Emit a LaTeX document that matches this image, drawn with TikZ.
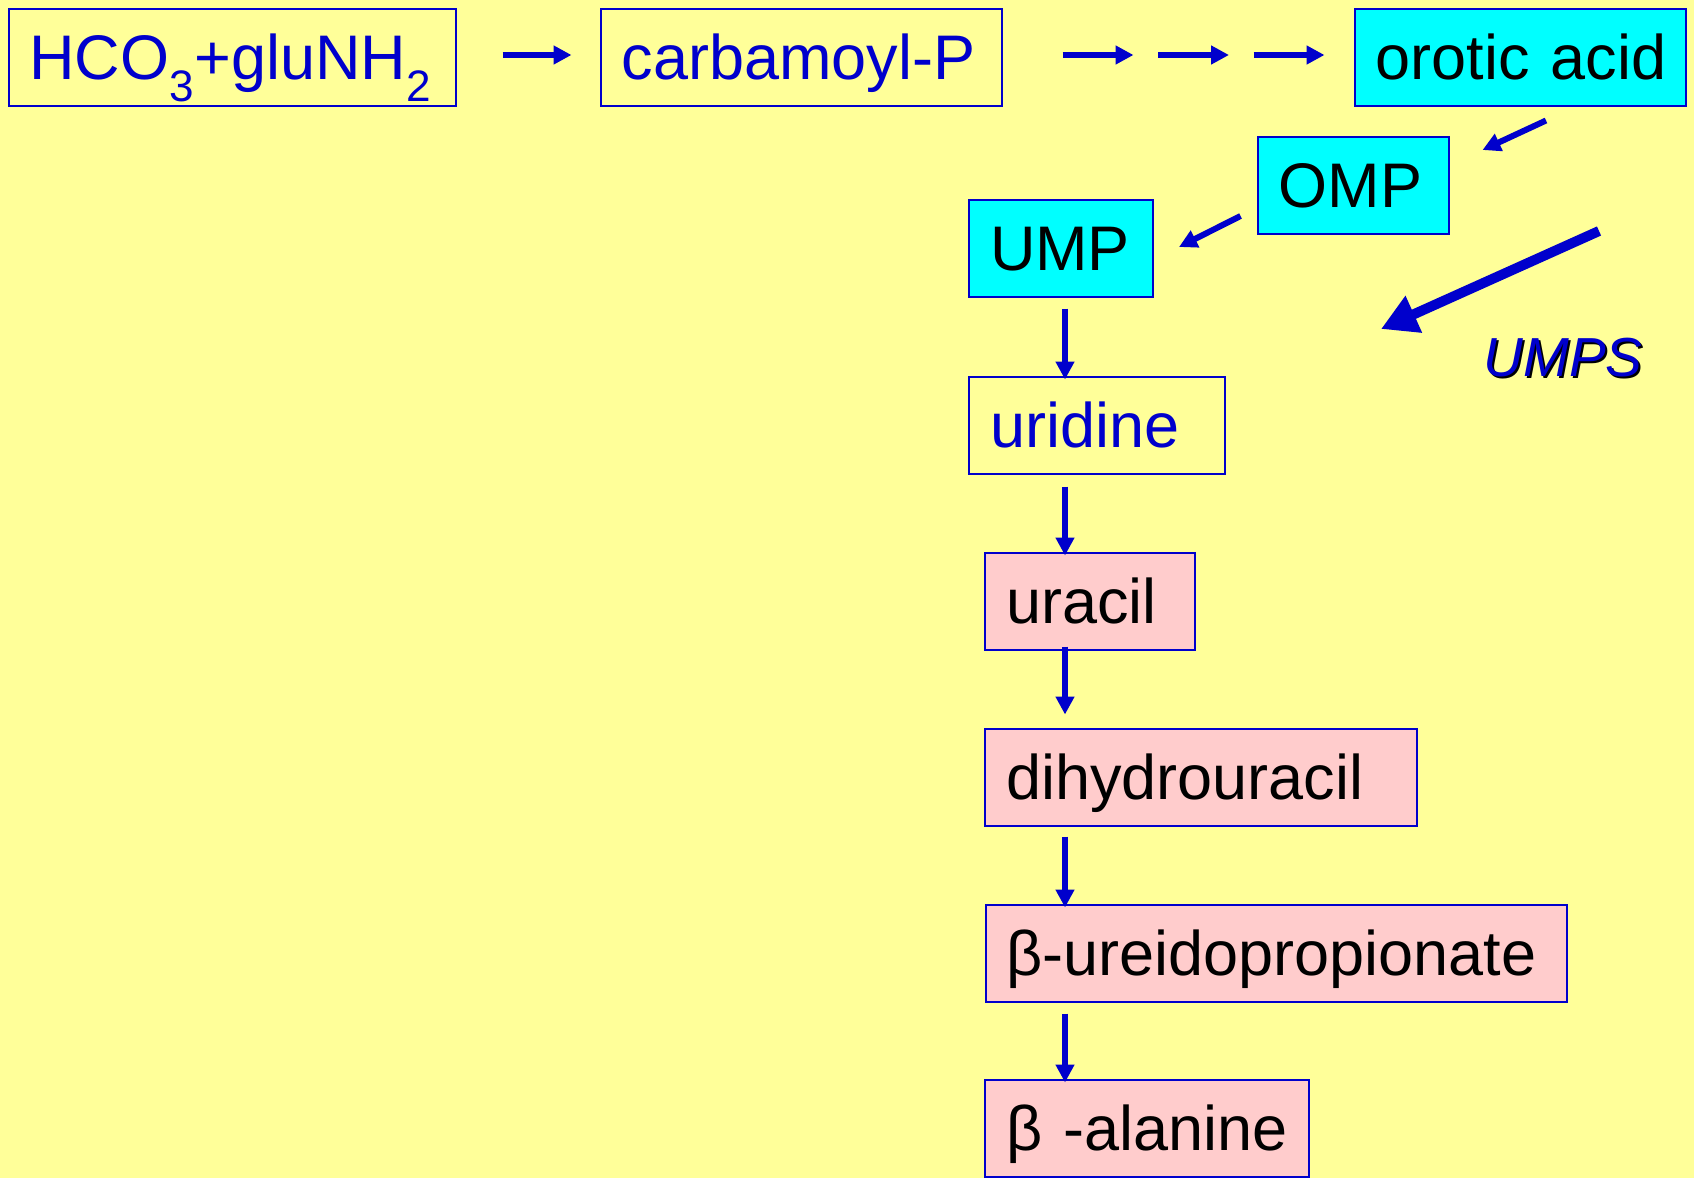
\documentclass[tikz,border=0pt]{standalone}
\usepackage{fontspec}
\setmainfont{Liberation Sans}
\usetikzlibrary{arrows.meta}
\hyphenpenalty=10000
\exhyphenpenalty=10000
\definecolor{slideyellow}{RGB}{255,255,153}
\definecolor{pathblue}{RGB}{0,0,204}
\definecolor{nucleotidecyan}{RGB}{0,255,255}
\definecolor{catabolpink}{RGB}{255,204,204}
\tikzset{
	box/.style={draw=pathblue, line width=2pt, inner xsep=21pt, inner ysep=0pt,
		minimum height=97pt, text height=45pt, text depth=0pt, align=left,
		font=\fontsize{63}{70}\selectfont},
	plainbox/.style={box, text=pathblue},
	cyanbox/.style={box, fill=nucleotidecyan, text=black},
	pinkbox/.style={box, fill=catabolpink, text=black},
	flow/.style={draw=pathblue, line width=6pt, -{Triangle[length=18pt,width=18pt]}},
	bigflow/.style={draw=pathblue, line width=10pt, -{Triangle[length=36pt,width=38pt]}},
	enzyme/.style={font=\fontsize{55}{60}\selectfont\itshape, inner sep=0pt},
}

\begin{document}
\begin{tikzpicture}[x=1pt, y=-1pt]
			%%%%% START %%%%%
			
			\fill[slideyellow] (0, 0) rectangle (1694, 1178);
			\useasboundingbox (0, 0) rectangle (1694, 1178);
			
			\node[plainbox, text width=405pt] (hco) at (232, 57) {HCO\textsubscript{3}+gluNH\textsubscript{2}};
			\node[plainbox, text width=359pt] (carb) at (801, 57) {carbamoyl-P};
			\node[cyanbox, text width=289pt] (orotic) at (1520, 57) {\mbox{orotic acid}};
			
			\node[cyanbox, text width=149pt] (omp) at (1353, 185) {OMP};
			\node[cyanbox, text width=142pt] (ump) at (1061, 248) {UMP};
			
			\node[plainbox, text width=214pt] (uridine) at (1097, 425) {uridine};
			\node[pinkbox, text width=168pt] (uracil) at (1090, 601) {uracil};
			\node[pinkbox, text width=390pt] (dihydro) at (1201, 777) {dihydrouracil};
			\node[pinkbox, text width=539pt] (ureido) at (1276, 953) {β-ureidopropionate};
			\node[pinkbox, text width=282pt] (alanine) at (1147, 1128) {β -alanine};
			
			\node[enzyme, text=black] (umpsshadow) at (1565, 360) {UMPS};
			\node[enzyme, text=pathblue] (umps) at (1563, 358) {UMPS};
			
			% synthesis
			\draw[flow, shorten <=46pt, shorten >=28pt] ([yshift=2pt]hco.east) -- ([yshift=2pt]carb.west);
			\foreach \i in {0,1,2}
				\draw[flow] ([xshift={60+95.5*\i}, yshift=2pt]carb.east) -- ++(71, 0);
			\draw[flow] ([shift={(26pt,-14pt)}]orotic.south) -- ([shift={(33pt,35pt)}]omp.east);
			\draw[flow] ([shift={(-16pt,-31pt)}]omp.west) -- ([shift={(25pt,1pt)}]ump.east);
			
			\coordinate (umpsfrom) at (1599, 231);
			\coordinate (umpsto) at (1381, 329);
			\draw[bigflow] (umpsfrom) -- (umpsto);
			
			% degradation
			\coordinate (col) at (1065, 0);
			\draw[flow, shorten <=11pt, shorten >=-4pt] (ump.south -| col) -- (uridine.north -| col);
			\draw[flow, shorten <=12pt, shorten >=-4pt] (uridine.south -| col) -- (uracil.north -| col);
			\draw[flow, shorten <=-4pt, shorten >=13pt] (uracil.south -| col) -- (dihydro.north -| col);
			\draw[flow, shorten <=10pt, shorten >=-4pt] (dihydro.south -| col) -- (ureido.north -| col);
			\draw[flow, shorten <=11pt, shorten >=-4pt] (ureido.south -| col) -- (alanine.north -| col);
			
			%%%%% END %%%%%
\end{tikzpicture}
\end{document}
